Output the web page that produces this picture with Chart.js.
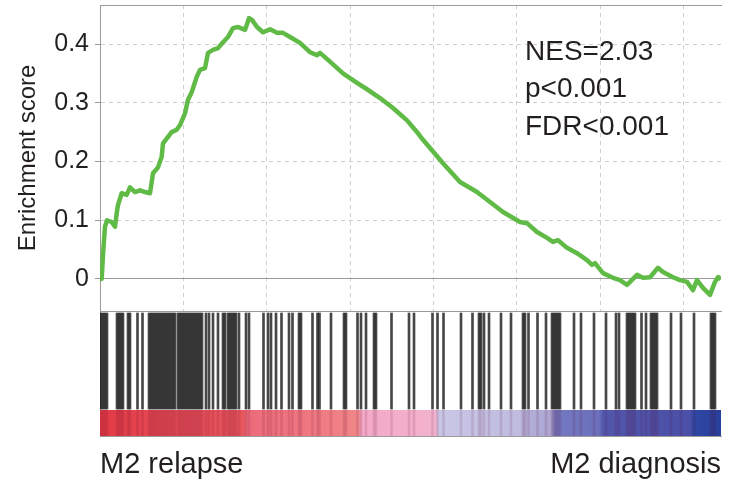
<!DOCTYPE html>
<html>
<head>
<meta charset="utf-8">
<script src="https://cdn.jsdelivr.net/npm/chart.js"></script>
<style>
  body { margin: 0; background: #fff; }
  #wrap { position: relative; width: 739px; height: 483px; overflow: hidden; }
  #esChart { position: absolute; left: 0; top: 0; }
  #hitChart { position: absolute; left: 0; top: 311px; }
</style>
</head>
<body>
<div id="wrap">
  <canvas id="esChart" width="739" height="312"></canvas>
  <canvas id="hitChart" width="739" height="172"></canvas>
</div>
<script>
// Ranked gene list length and grid spacing (rank units)
const rankMax = 18630
const gridRanks = [2500, 5000, 7500, 10000, 12500, 15000, 17500]
const esTicks = [0, 0.1, 0.2, 0.3, 0.4]

// Running enrichment score along the ranked list
const esRank = [0, 51, 81, 120, 150, 210, 351, 450, 501, 540, 651, 801, 900, 1050, 1200, 1350, 1500,
  1590, 1740, 1851, 1890, 2040, 2151, 2301, 2400, 2550, 2640, 2751, 2901, 3000, 3150, 3240, 3390,
  3540, 3690, 3840, 3990, 4140, 4350, 4470, 4560, 4710, 4890, 5100, 5310, 5490, 5700, 6000, 6300,
  6510, 6600, 6900, 7290, 7710, 8010, 8400, 8790, 9210, 9540, 9690, 10290, 10800, 11310, 11700,
  12090, 12600, 12810, 13110, 13410, 13590, 13740, 14010, 14310, 14610, 14760, 14850, 15090, 15390,
  15600, 15810, 15900, 16110, 16290, 16500, 16740, 16890, 17190, 17400, 17610, 17790, 17910, 18090,
  18300, 18450, 18540, 18630]
const esValue = [0, 0, 0.032, 0.066, 0.089, 0.1, 0.097, 0.089, 0.112, 0.126, 0.146, 0.143, 0.156, 0.148,
  0.151, 0.148, 0.146, 0.18, 0.19, 0.208, 0.231, 0.242, 0.25, 0.254, 0.262, 0.282, 0.305, 0.318, 0.344,
  0.356, 0.359, 0.385, 0.39, 0.393, 0.403, 0.412, 0.427, 0.429, 0.424, 0.444, 0.441, 0.429, 0.42, 0.425,
  0.419, 0.419, 0.412, 0.402, 0.386, 0.381, 0.385, 0.37, 0.35, 0.334, 0.323, 0.308, 0.291, 0.27, 0.248,
  0.237, 0.197, 0.165, 0.148, 0.131, 0.114, 0.097, 0.095, 0.08, 0.07, 0.063, 0.066, 0.053, 0.044, 0.032,
  0.024, 0.027, 0.01, 0.002, -0.002, -0.01, -0.005, 0.007, 0.002, 0.003, 0.019, 0.012, 0.003, -0.002,
  -0.005, -0.019, -0.002, -0.015, -0.027, -0.005, 0.003, 0]

// Ranks of gene set members (hits)
const hitRanks = [30, 90, 150, 210, 510, 570, 630, 690, 840, 900, 1125, 1275, 1470, 1530, 1590, 1650,
  1710, 1770, 1830, 1890, 1950, 2010, 2070, 2130, 2190, 2250, 2340, 2400, 2460, 2520, 2580, 2640, 2700,
  2760, 2820, 2880, 2940, 3000, 3060, 3180, 3270, 3390, 3540, 3690, 3750, 3840, 3900, 3960, 4020, 4080,
  4170, 4380, 4470, 4905, 5040, 5130, 5280, 5445, 5670, 5775, 5970, 6030, 6375, 6525, 6585, 6930, 7320,
  7380, 7725, 7830, 7980, 8220, 8280, 8745, 9270, 9420, 9975, 10125, 10305, 10830, 11175, 11370, 11430,
  11520, 11670, 12030, 12330, 12690, 12750, 12855, 13125, 13380, 13560, 13620, 13680, 13740, 13800,
  14220, 14430, 14820, 15180, 15480, 15570, 15810, 15870, 15930, 15990, 16050, 16245, 16380, 16530,
  16590, 16650, 16710, 17130, 17430, 17820, 18330, 18390, 18450]

// Ranked metric colour strip: rank breakpoints and their colours
const stripRanks = [0, 2100, 4290, 4410, 6000, 7740, 7860, 10050, 10170, 12600, 12720, 13530, 13650,
  14970, 15090, 17700, 17820, 18630]
const stripColors = ['#e23a44', '#e64c55', '#e8565e', '#ec6b7a', '#ef7580', '#f08688', '#f3aac8',
  '#f2b2cc', '#c9c6e6', '#bfbce0', '#b3afd8', '#aca6d3', '#7479c2', '#6c70bc', '#5257ac', '#4b4fa7',
  '#2f47a2', '#283f9c']

const statLines = ['NES=2.03', 'p<0.001', 'FDR<0.001']
const endLabels = ['M2 relapse', 'M2 diagnosis']

const textColor = '#231f20'
const axisColor = '#9a9a9a'
const gridColor = '#cfcfcf'
const fontFamily = '"Liberation Sans", Arial, sans-serif'

// NES / p / FDR block, anchored on the data scales
const statsText = {
  id: 'statsText',
  afterDatasetsDraw(chart) {
    const {ctx, scales} = chart
    const x = scales.x.getPixelForValue(12750)
    const y = scales.y.getPixelForValue(0.373)
    ctx.save()
    ctx.font = '28px ' + fontFamily
    ctx.fillStyle = textColor
    ctx.textBaseline = 'alphabetic'
    statLines.forEach((t, i) => ctx.fillText(t, x, y + i * 37.5))
    ctx.restore()
  }
}

// fixed axis sizes so both panels share the same plot edges
const fixWidth = s => { s.width = 100; s.paddingTop = 0; s.paddingBottom = 0 }
const fixHeight = h => s => { s.height = h; s.paddingLeft = 0; s.paddingRight = 0 }

const esChart = new Chart(document.getElementById('esChart'), {
  type: 'line',
  data: {
    datasets: [{
      data: esRank.map((r, i) => ({ x: r, y: esValue[i] })),
      borderColor: '#60ba46',
      borderWidth: 4.5,
      pointRadius: 0,
      tension: 0,
      borderJoinStyle: 'round'
    }]
  },
  options: {
    responsive: false,
    devicePixelRatio: 1,
    animation: false,
    layout: { padding: { top: 5, right: 18, bottom: 1, left: 0 } },
    plugins: { legend: { display: false }, tooltip: { enabled: false } },
    scales: {
      x: {
        type: 'linear',
        min: 0,
        max: rankMax,
        afterBuildTicks: s => { s.ticks = gridRanks.map(v => ({ value: v })) },
        afterFit: fixHeight(0),
        ticks: { display: false },
        grid: { color: gridColor, drawTicks: false },
        border: { color: axisColor, dash: c => c.type === 'tick' ? [4, 4] : [] }
      },
      xTop: {
        type: 'linear',
        position: 'top',
        min: 0,
        max: rankMax,
        afterFit: fixHeight(0),
        ticks: { display: false },
        grid: { display: false, drawTicks: false },
        border: { color: axisColor }
      },
      y: {
        min: -0.0545,
        max: 0.4664,
        afterBuildTicks: s => { s.ticks = esTicks.map(v => ({ value: v })) },
        afterFit: fixWidth,
        ticks: {
          color: textColor,
          font: { family: fontFamily, size: 25 },
          padding: 6,
          callback: v => v === 0 ? '0' : v.toFixed(1)
        },
        grid: {
          color: c => c.tick && c.tick.value === 0 ? axisColor : gridColor,
          tickColor: axisColor,
          tickLength: 5
        },
        border: { color: axisColor, dash: c => c.type === 'tick' && c.tick.value !== 0 ? [4, 4] : [] },
        title: {
          display: true,
          text: 'Enrichment score',
          color: textColor,
          font: { family: fontFamily, size: 24 },
          padding: { top: 14, bottom: 0 }
        }
      }
    }
  },
  plugins: [statsText]
})

// Colour strip fill built from the rank breakpoints on the x scale
function stripFill(context) {
  const {ctx, chartArea, scales} = context.chart
  if (!chartArea) return null
  const g = ctx.createLinearGradient(scales.x.getPixelForValue(0), 0, scales.x.getPixelForValue(rankMax), 0)
  stripRanks.forEach((r, i) => g.addColorStop(r / rankMax, stripColors[i]))
  return g
}

const hitChart = new Chart(document.getElementById('hitChart'), {
  type: 'bar',
  data: {
    datasets: [
      {
        label: 'hits',
        data: hitRanks.map(r => ({ x: r, y: [27, 123] })),
        backgroundColor: 'rgba(0,0,0,0.72)',
        barThickness: 2,
        grouped: false,
        order: 1
      },
      {
        label: 'hit traces',
        data: hitRanks.map(r => ({ x: r, y: [0, 26] })),
        backgroundColor: 'rgba(90,0,40,0.12)',
        barThickness: 2,
        grouped: false,
        order: 2
      },
      {
        type: 'line',
        label: 'metric',
        data: [{ x: 0, y: 26 }, { x: rankMax, y: 26 }],
        borderWidth: 0,
        pointRadius: 0,
        fill: 'origin',
        backgroundColor: stripFill,
        order: 3
      }
    ]
  },
  options: {
    responsive: false,
    devicePixelRatio: 1,
    animation: false,
    layout: { padding: { top: 0, right: 18, bottom: 0, left: 0 } },
    plugins: { legend: { display: false }, tooltip: { enabled: false } },
    scales: {
      x: {
        type: 'linear',
        offset: false,
        min: 0,
        max: rankMax,
        afterBuildTicks: s => { s.ticks = [{ value: 0 }, { value: rankMax }] },
        afterFit: fixHeight(47),
        ticks: {
          align: 'inner',
          maxRotation: 0,
          autoSkip: false,
          padding: 12,
          color: textColor,
          font: { family: fontFamily, size: 29 },
          callback: (v, i) => endLabels[i]
        },
        grid: { display: false, drawTicks: false },
        border: { color: axisColor }
      },
      y: {
        min: 0,
        max: 125,
        afterFit: fixWidth,
        ticks: { display: false },
        grid: { display: false, drawTicks: false },
        border: { color: axisColor }
      }
    }
  }
})
</script>
</body>
</html>
